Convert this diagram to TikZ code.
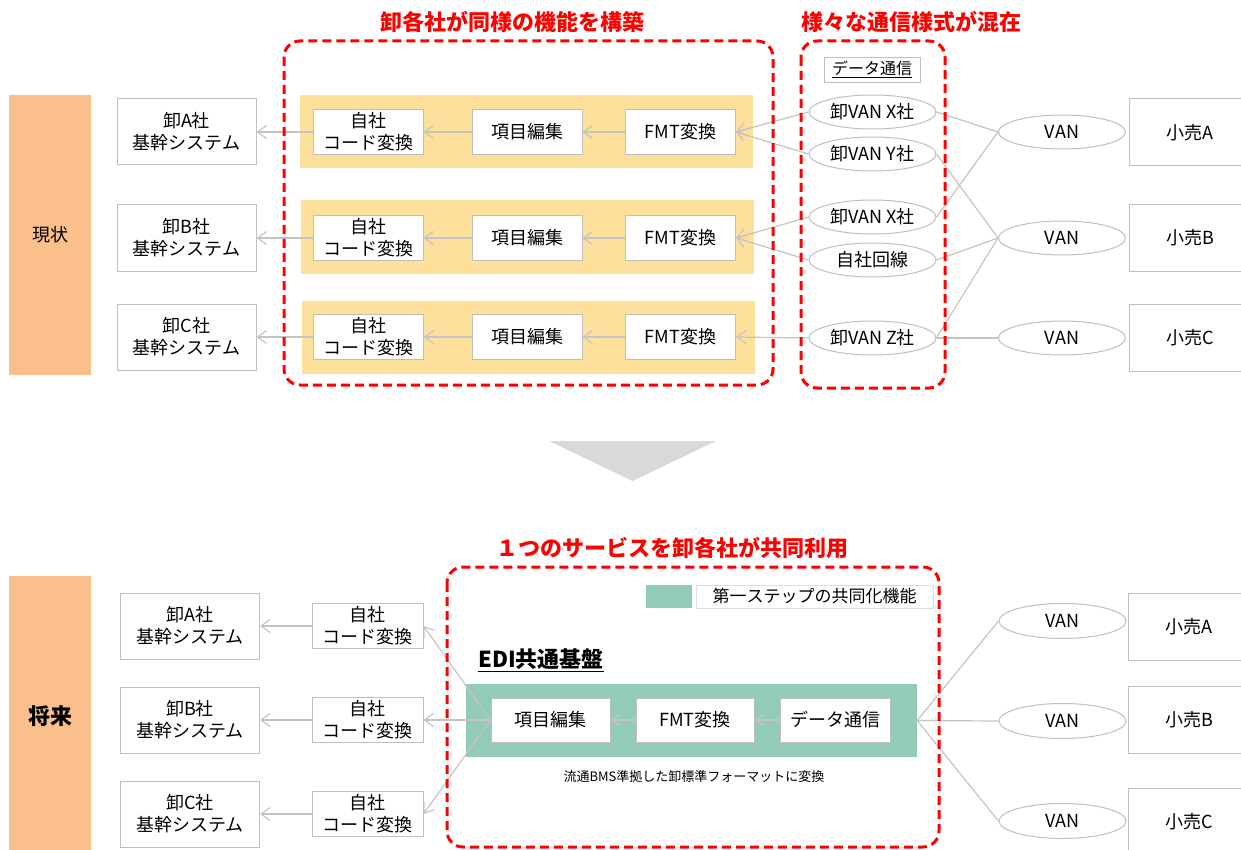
\documentclass[tikz,border=0pt]{standalone}
\usepackage{fontspec}
\setmainfont{Noto Sans CJK JP}
\usetikzlibrary{arrows.meta, shapes.geometric}
\definecolor{peach}{HTML}{FBBF8C}
\definecolor{bandgold}{HTML}{FCE09C}
\definecolor{edigreen}{HTML}{92CBB9}
\definecolor{linegray}{HTML}{C4C4C4}
\definecolor{boxgray}{HTML}{BFBFBF}
\definecolor{arrowgray}{HTML}{D9D9D9}
\newcommand{\lbl}{\fontsize{18}{22}\selectfont}

\begin{document}
\begin{tikzpicture}[x=1pt, y=-1pt,
  every node/.style={font=\lbl, inner sep=0},
  sysbox/.style={draw=boxgray, fill=white, line width=1, minimum width=139, minimum height=66, align=center},
  stepbox/.style={draw=boxgray, fill=white, line width=1, minimum width=110, minimum height=45, align=center},
  vanell/.style={ellipse, draw=boxgray, fill=white, line width=1, minimum width=127, minimum height=34},
  shopbox/.style={draw=boxgray, line width=1, minimum width=122, minimum height=67},
  band/.style={fill=bandgold, minimum width=453, minimum height=73},
  phase/.style={fill=peach, minimum width=82, minimum height=280},
  redzone/.style={draw=red, line width=3, dash pattern=on 9pt off 5pt, rounded corners=16},
  redtitle/.style={text=red, font=\fontsize{22}{26}\selectfont\bfseries},
  flow/.style={draw=linegray, line width=1.2, -{Straight Barb[length=9pt, width=13pt]}},
  link/.style={draw=linegray, line width=1.2}]
  \useasboundingbox (0,0) rectangle (1241,850);

  \node[phase] (now) at (50,235) {\fontsize{18}{22}\selectfont 現状};
  \node[sysbox] (sysA) at (186.5,132) {卸A社\\基幹システム};
  \node[sysbox] (sysB) at (186.5,238) {卸B社\\基幹システム};
  \node[sysbox] (sysC) at (186.5,337) {卸C社\\基幹システム};

  \node[band] (bandA) at (526,132) {};
  \node[band] (bandB) at (527,237) {};
  \node[band] (bandC) at (528,337.5) {};

  \node[stepbox] (ownA) at (368,132) {自社\\コード変換};
  \node[stepbox] (itemA) at (527,132) {項目編集};
  \node[stepbox] (fmtA) at (680.5,132) {FMT変換};
  \node[stepbox] (ownB) at (368,238) {自社\\コード変換};
  \node[stepbox] (itemB) at (527,238) {項目編集};
  \node[stepbox] (fmtB) at (680.5,238) {FMT変換};
  \node[stepbox] (ownC) at (368,337) {自社\\コード変換};
  \node[stepbox] (itemC) at (527,337) {項目編集};
  \node[stepbox] (fmtC) at (680.5,337) {FMT変換};

  \node[draw=boxgray, fill=white, minimum width=96, minimum height=25, font=\fontsize{16}{18}\selectfont] (datalbl) at (872,69.5) {\underline{データ通信}};
  \node[vanell] (wvxA) at (872.5,112) {卸VAN X社};
  \node[vanell] (wvyA) at (872.5,154) {卸VAN Y社};
  \node[vanell] (wvxB) at (872.5,217) {卸VAN X社};
  \node[vanell] (ownline) at (872.5,260) {自社回線};
  \node[vanell] (wvzC) at (872.5,338) {卸VAN Z社};

  \node[vanell] (vanA) at (1062,132) {VAN};
  \node[vanell] (vanB) at (1062,238) {VAN};
  \node[vanell] (vanC) at (1062,338) {VAN};
  \node[shopbox] (shopA) at (1190,132.5) {小売A};
  \node[shopbox] (shopB) at (1190,238) {小売B};
  \node[shopbox] (shopC) at (1190,337.5) {小売C};

  \draw[flow] (ownA) -- (sysA);
  \draw[flow] (itemA) -- (ownA);
  \draw[flow] (fmtA) -- (itemA);
  \draw[flow] (ownB) -- (sysB);
  \draw[flow] (itemB) -- (ownB);
  \draw[flow] (fmtB) -- (itemB);
  \draw[flow] (ownC) -- (sysC);
  \draw[flow] (itemC) -- (ownC);
  \draw[flow] (fmtC) -- (itemC);
  \draw[flow] (wvxA.west) -- (fmtA.east);
  \draw[flow] (wvyA.west) -- (fmtA.east);
  \draw[flow] (wvxB.west) -- (fmtB.east);
  \draw[flow] (ownline.west) -- (fmtB.east);
  \draw[flow] (wvzC.west) -- (fmtC.east);
  \draw[link] (wvxA.east) -- (vanA.west);
  \draw[link] (wvxB.east) -- (vanA.west);
  \draw[link] (wvyA.east) -- (vanB.west);
  \draw[link] (ownline.east) -- (vanB.west);
  \draw[link] (wvzC.east) -- (vanB.west);
  \draw[link] (wvzC.east) -- (vanC.west);

  \draw[redzone] (284,41) rectangle (773,385);
  \draw[redzone] (801,41) rectangle (945,388);
  \node[redtitle] (titleA) at (512,22) {卸各社が同様の機能を構築};
  \node[redtitle] (titleB) at (911,22) {様々な通信様式が混在};

  \fill[arrowgray] (549,441) -- (716,441) -- (632.5,481) -- cycle;

  \node[phase, font=\fontsize{22}{26}\selectfont\bfseries] (future) at (50,716) {将来};
  \node[sysbox] (sysA2) at (190,626) {卸A社\\基幹システム};
  \node[sysbox] (sysB2) at (190,720) {卸B社\\基幹システム};
  \node[sysbox] (sysC2) at (190,814) {卸C社\\基幹システム};
  \node[stepbox, minimum width=111] (ownA2) at (367.5,626) {自社\\コード変換};
  \node[stepbox, minimum width=111] (ownB2) at (367.5,720) {自社\\コード変換};
  \node[stepbox, minimum width=111] (ownC2) at (367.5,814) {自社\\コード変換};

  \node[fill=edigreen, minimum width=46, minimum height=23] (keyswatch) at (669,596.5) {};
  \node[draw=boxgray!50, fill=white, minimum width=237, minimum height=23, font=\fontsize{17}{20}\selectfont] (keytext) at (814.5,596.5) {第一ステップの共同化機能};
  \node[font=\fontsize{22}{26}\selectfont\bfseries] (editl) at (541,660) {\underline{EDI共通基盤}};
  \node[fill=edigreen, minimum width=451, minimum height=73] (edi) at (691.5,720.5) {};
  \node[stepbox, minimum width=119, minimum height=44] (itemF) at (550.5,720) {項目編集};
  \node[stepbox, minimum width=118, minimum height=44] (fmtF) at (695,720) {FMT変換};
  \node[stepbox, minimum width=110, minimum height=44] (dataF) at (835,720) {データ通信};
  \node[font=\fontsize{13}{16}\selectfont] (note) at (694,777) {流通BMS準拠した卸標準フォーマットに変換};

  \node[vanell, minimum height=35] (vanA2) at (1062.5,621) {VAN};
  \node[vanell, minimum height=35] (vanB2) at (1062.5,721) {VAN};
  \node[vanell, minimum height=35] (vanC2) at (1062.5,821) {VAN};
  \node[shopbox] (shopA2) at (1189,626.5) {小売A};
  \node[shopbox] (shopB2) at (1189,720) {小売B};
  \node[shopbox] (shopC2) at (1189,821.5) {小売C};

  \draw[flow] (ownA2) -- (sysA2);
  \draw[flow] (ownB2) -- (sysB2);
  \draw[flow] (ownC2) -- (sysC2);
  \draw[flow] (itemF.west) -- (ownA2.east);
  \draw[flow] (itemF.west) -- (ownB2.east);
  \draw[flow] (itemF.west) -- (ownC2.east);
  \draw[flow] (fmtF) -- (itemF);
  \draw[flow] (dataF) -- (fmtF);
  \draw[link] (edi.east) -- (vanA2.west);
  \draw[link] (edi.east) -- (vanB2.west);
  \draw[link] (edi.east) -- (vanC2.west);

  \draw[redzone] (447,567) rectangle (939,847);
  \node[redtitle] (titleC) at (672,548) {１つのサービスを卸各社が共同利用};
\end{tikzpicture}
\end{document}
